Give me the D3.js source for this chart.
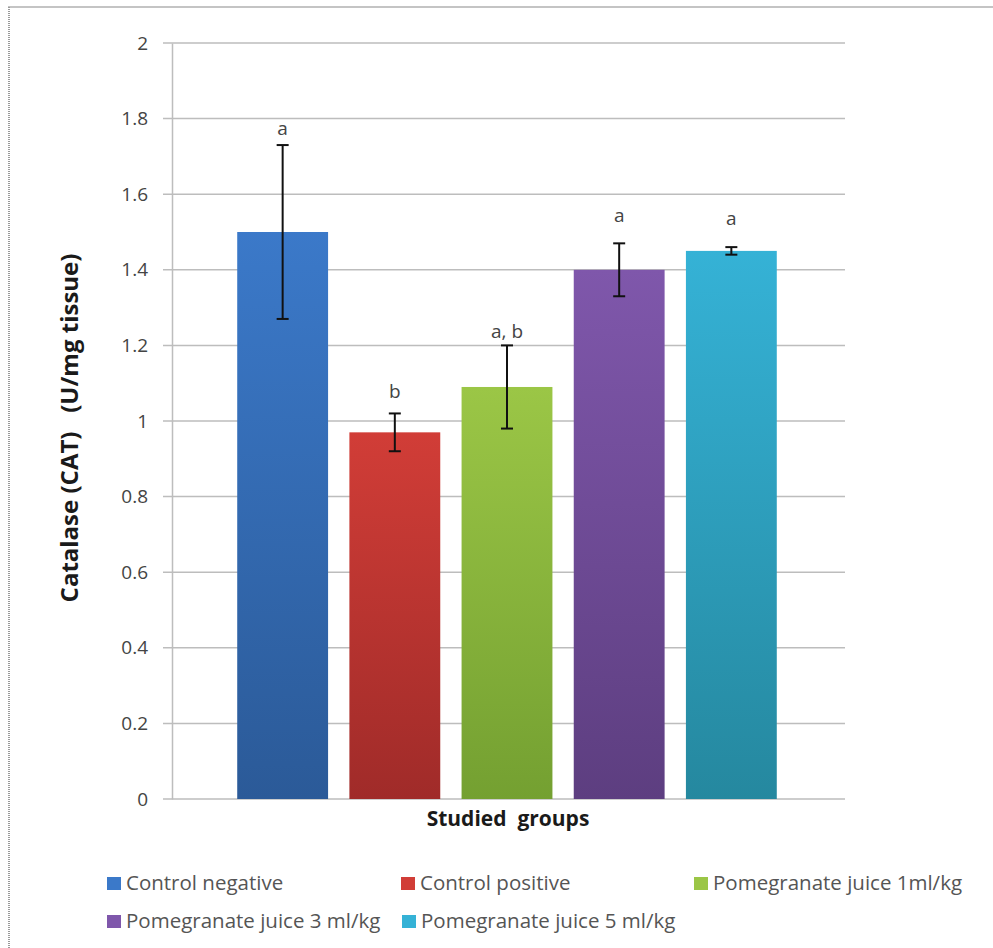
<!DOCTYPE html>
<html><head><meta charset="utf-8">
<script src="https://cdn.jsdelivr.net/npm/d3@7/dist/d3.min.js"></script>
<style>body{margin:0;background:#fff;}svg{display:block;}</style>
</head><body>
<script>
const groups = ["Control negative","Control positive","Pomegranate juice 1ml/kg","Pomegranate juice 3 ml/kg","Pomegranate juice 5 ml/kg"];
const means = [1.5, 0.97, 1.09, 1.4, 1.45];
const errLow = [1.27, 0.92, 0.98, 1.33, 1.44];
const errHigh = [1.73, 1.02, 1.2, 1.47, 1.46];
const sigLabels = ["a","b","a, b","a","a"];
const sigLabelAt = [1.757, 1.061, 1.22, 1.526, 1.519];
const yTicks = [0,0.2,0.4,0.6,0.8,1,1.2,1.4,1.6,1.8,2];
const colorsTop = ["#3b79c9","#d13d37","#9bc646","#7f57ab","#35b2d6"];
const colorsBot = ["#2b5a98","#a02b29","#74a031","#5d3e80","#25889f"];

const W=993,H=948;
const FONT="'Open Sans', sans-serif";
const svg=d3.select("body").append("svg").attr("width",W).attr("height",H);
const defs=svg.append("defs");
colorsTop.forEach((c,i)=>{
  const g=defs.append("linearGradient").attr("id","g"+i).attr("x1",0).attr("y1",0).attr("x2",0).attr("y2",1);
  g.append("stop").attr("offset","0%").attr("stop-color",c);
  g.append("stop").attr("offset","100%").attr("stop-color",colorsBot[i]);
});

// frame
svg.append("line").attr("x1",8).attr("x2",W).attr("y1",7).attr("y2",7).attr("stroke","#c4c4c4").attr("stroke-width",2);
svg.append("line").attr("x1",9).attr("x2",9).attr("y1",7).attr("y2",H).attr("stroke","#9a9a9a").attr("stroke-width",2).attr("stroke-dasharray","1,1");

const plotL=172, plotR=845, plotT=43, plotB=799;
const y=d3.scaleLinear().domain([0,2]).range([plotB,plotT]);
const x=d3.scaleBand().domain(groups).range([226,788]).paddingInner(0.19).paddingOuter(0.1);

// gridlines
svg.append("g").selectAll("line").data(yTicks).join("line")
  .attr("x1",163).attr("x2",plotR).attr("y1",d=>y(d)).attr("y2",d=>y(d))
  .attr("stroke","#bdbdbd").attr("stroke-width",1.5);

// y axis
const yAxis=d3.axisLeft(y).tickValues(yTicks).tickFormat(d=>String(d)).tickSize(0).tickPadding(24);
const ya=svg.append("g").attr("transform",`translate(${plotL},0)`).call(yAxis);
ya.select(".domain").attr("stroke","#bdbdbd").attr("stroke-width",1.5);
ya.selectAll("text").attr("font-family",FONT).attr("font-size",19).attr("fill","#444");

// bars
svg.append("g").selectAll("rect").data(groups).join("rect")
  .attr("x",d=>x(d)).attr("width",x.bandwidth())
  .attr("y",(d,i)=>y(means[i])).attr("height",(d,i)=>y(0)-y(means[i]))
  .attr("fill",(d,i)=>`url(#g${i})`);

// error bars
const eb=svg.append("g").attr("stroke","#111").attr("stroke-width",2);
groups.forEach((g,i)=>{
  const cx=x(g)+x.bandwidth()/2;
  eb.append("line").attr("x1",cx).attr("x2",cx).attr("y1",y(errLow[i])).attr("y2",y(errHigh[i]));
  eb.append("line").attr("x1",cx-6).attr("x2",cx+6).attr("y1",y(errLow[i])).attr("y2",y(errLow[i]));
  eb.append("line").attr("x1",cx-6).attr("x2",cx+6).attr("y1",y(errHigh[i])).attr("y2",y(errHigh[i]));
});

// significance labels
svg.append("g").selectAll("text").data(groups).join("text")
  .attr("x",d=>x(d)+x.bandwidth()/2).attr("y",(d,i)=>y(sigLabelAt[i]))
  .attr("text-anchor","middle").attr("font-family",FONT).attr("font-size",19).attr("fill","#444")
  .text((d,i)=>sigLabels[i]);

// axis titles
svg.append("text").attr("transform","translate(78,428) rotate(-90)").attr("text-anchor","middle")
  .attr("font-family",FONT).attr("font-weight","bold").attr("font-size",24).attr("fill","#1a1a1a")
  .attr("xml:space","preserve").text("Catalase (CAT)   (U/mg tissue)");
svg.append("text").attr("x",508).attr("y",826).attr("text-anchor","middle")
  .attr("font-family",FONT).attr("font-weight","bold").attr("font-size",21).attr("fill","#1a1a1a")
  .attr("xml:space","preserve").text("Studied  groups");

// legend
const legPos=[[107,890],[401,890],[694,890],[107,928],[402,928]];
const lg=svg.append("g");
groups.forEach((g,i)=>{
  const [lx,ly]=legPos[i];
  lg.append("rect").attr("x",lx).attr("y",ly-13).attr("width",14).attr("height",13).attr("fill",colorsTop[i]);
  lg.append("text").attr("x",lx+19).attr("y",ly).attr("font-family",FONT).attr("font-size",20.5).attr("fill","#555").text(g);
});
</script>
</body></html>
